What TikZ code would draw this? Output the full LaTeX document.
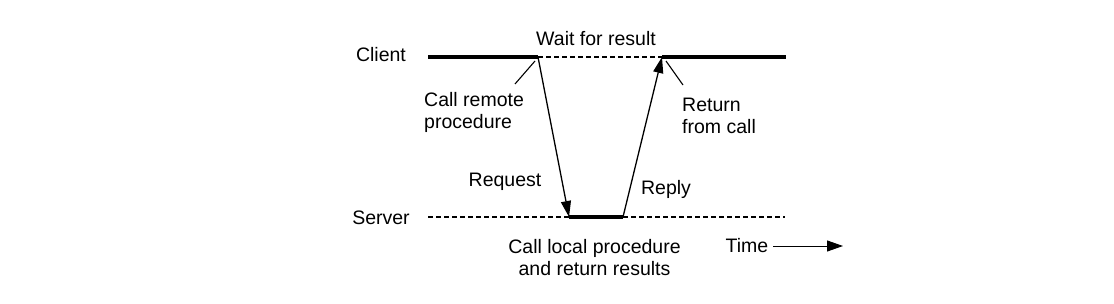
\documentclass[tikz,border=0pt]{standalone}
\usepackage{fontspec}
\setmainfont{Liberation Sans}
\usetikzlibrary{arrows.meta}
\begin{document}
\begin{tikzpicture}[x=1pt,y=-1pt,
  lbl/.style={font=\fontsize{19.5}{22}\selectfont, inner sep=0pt},
  busy/.style={line width=4pt},
  idle/.style={line width=1.1pt, dash pattern=on 5pt off 3pt},
  msg/.style={line width=1.3pt, -{Triangle[length=16pt,width=10pt]}},
  ptr/.style={line width=1.1pt}]
\useasboundingbox (0,0) rectangle (1114,303);
% coordinates
\coordinate (c0) at (428,57);
\coordinate (c1) at (538,57);
\coordinate (c2) at (662,57);
\coordinate (c3) at (786,57);
\coordinate (s0) at (428,217);
\coordinate (s1) at (569,217);
\coordinate (s2) at (623,217);
\coordinate (s3) at (785,217);
% timelines
\draw[busy] (c0) -- (c1);
\draw[idle] (c1) -- (c2);
\draw[busy] (c2) -- (c3);
\draw[idle] (s0) -- (s1);
\draw[busy] (s1) -- (s2);
\draw[idle] (s2) -- (s3);
% messages
\draw[msg] (c1) -- (s1);
\draw[msg] (s2) -- (c2);
% labels
\node[lbl] (client) at (381,55) {Client};
\node[lbl] (server) at (381,218) {Server};
\node[lbl] (wait) at (596,39) {Wait for result};
\node[lbl, align=left, anchor=west] (crp) at (424,112) {Call remote\\procedure};
\node[lbl, align=left, anchor=west] (rfc) at (682,116) {Return\\from call};
\node[lbl] (req) at (505,182) {Request};
\node[lbl] (rep) at (666,189) {Reply};
\node[lbl, align=center] (clp) at (594.5,258) {Call local procedure\\and return results};
\node[lbl] (time) at (747,246) {Time};
\coordinate (t0) at (773,246);
\coordinate (t1) at (843,246);
\draw[line width=1pt, -{Triangle[length=16pt,width=11pt]}] (t0) -- (t1);
% pointers
\coordinate (p1a) at (535,61);
\coordinate (p1b) at (515,84);
\draw[ptr] (p1a) -- (p1b);
\coordinate (p2a) at (666,61);
\coordinate (p2b) at (683,85);
\draw[ptr] (p2a) -- (p2b);
\end{tikzpicture}
\end{document}
